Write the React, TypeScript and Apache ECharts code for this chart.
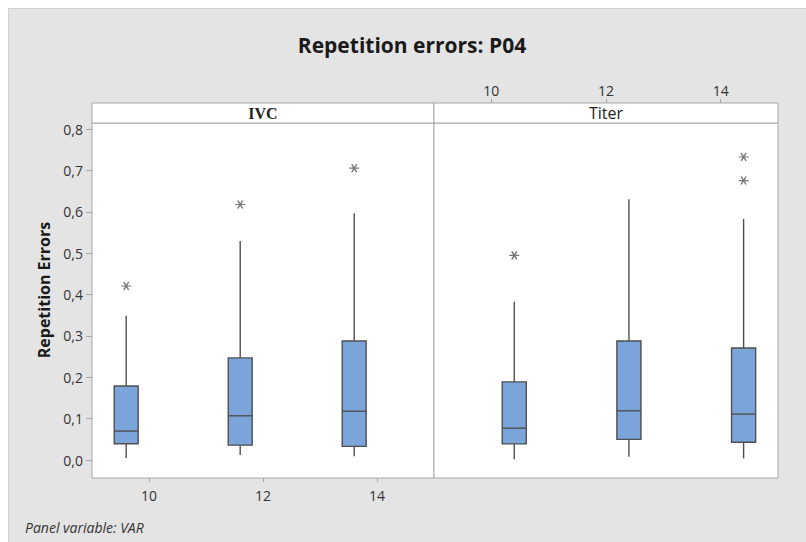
import React, { useEffect, useRef } from "react";
import * as echarts from "echarts";

// ---- data ----
const levels = [10, 12, 14];
const panels = ["IVC", "Titer"];

const ivcLow = [0.005, 0.012, 0.009];
const ivcQ1 = [0.0395, 0.036, 0.033];
const ivcMedian = [0.07, 0.107, 0.118];
const ivcQ3 = [0.179, 0.247, 0.288];
const ivcHigh = [0.349, 0.53, 0.597];
const ivcOutliers = [
  [10, 0.421],
  [12, 0.618],
  [14, 0.706],
];

const titerLow = [0.002, 0.008, 0.004];
const titerQ1 = [0.039, 0.05, 0.043];
const titerMedian = [0.077, 0.119, 0.111];
const titerQ3 = [0.189, 0.288, 0.271];
const titerHigh = [0.383, 0.631, 0.583];
const titerOutliers = [
  [10, 0.495],
  [14, 0.733],
  [14, 0.676],
];

const yTicks = [0, 0.1, 0.2, 0.3, 0.4, 0.5, 0.6, 0.7, 0.8];
const xTicks = [10, 12, 14];

const title = "Repetition errors: P04";
const yName = "Repetition Errors";
const footer = "Panel variable: VAR";

// ---- layout / style ----
const DODGE_IVC = -0.4;
const DODGE_TITER = 0.4;
const FONT = "'Open Sans', 'Noto Sans', sans-serif";
const BOX_FILL = "#7ba4da";
const DARK = "#4f4f4f";
const PANEL_BORDER = "#a8a8a8";

function boxData(low: number[], q1: number[], med: number[], q3: number[], high: number[], dodge: number) {
  return levels.map((lv, i) => [lv + dodge, low[i], q1[i], med[i], q3[i], high[i]]);
}

function renderBox(params: any, api: any) {
  const x = api.value(0);
  const pLow = api.coord([x, api.value(1)]);
  const pQ1 = api.coord([x, api.value(2)]);
  const pMed = api.coord([x, api.value(3)]);
  const pQ3 = api.coord([x, api.value(4)]);
  const pHigh = api.coord([x, api.value(5)]);
  const w = api.size([0.42, 0])[0];
  const half = w / 2;
  const lineStyle = { stroke: DARK, lineWidth: 1.4 };
  return {
    type: "group",
    children: [
      { type: "line", shape: { x1: pLow[0], y1: pLow[1], x2: pQ1[0], y2: pQ1[1] }, style: lineStyle },
      { type: "line", shape: { x1: pQ3[0], y1: pQ3[1], x2: pHigh[0], y2: pHigh[1] }, style: lineStyle },
      {
        type: "rect",
        shape: { x: pQ3[0] - half, y: pQ3[1], width: w, height: pQ1[1] - pQ3[1] },
        style: { fill: BOX_FILL, stroke: DARK, lineWidth: 1.4 },
      },
      { type: "line", shape: { x1: pMed[0] - half, y1: pMed[1], x2: pMed[0] + half, y2: pMed[1] }, style: lineStyle },
    ],
  };
}

const ASTERISK = "path://M0,5L12,5M3,0L9,10M9,0L3,10";

export default function App() {
  const ref = useRef<HTMLDivElement>(null);

  useEffect(() => {
    if (!ref.current) return;
    const chart = echarts.init(ref.current, null, { renderer: "svg" });

    const Y_MIN = -0.0435;
    const Y_MAX = 0.8152;
    const fmt = (v: number) => v.toFixed(1).replace(".", ",");

    const baseY = {
      type: "value",
      min: Y_MIN,
      max: Y_MAX,
      splitLine: { show: false },
      axisLine: { show: false, onZero: false },
    };

    const option: any = {
      animation: false,
      backgroundColor: "#e4e4e4",
      textStyle: { fontFamily: FONT },
      grid: [
        {
          left: 84, top: 115, width: 342, height: 355,
          show: true, backgroundColor: "#ffffff", borderColor: PANEL_BORDER, borderWidth: 1,
        },
        {
          left: 426, top: 115, width: 344, height: 355,
          show: true, backgroundColor: "#ffffff", borderColor: PANEL_BORDER, borderWidth: 1,
        },
      ],
      xAxis: [
        {
          type: "value", gridIndex: 0, min: 9, max: 15, position: "bottom",
          splitLine: { show: false },
          axisLine: { show: false, onZero: false },
          axisTick: { show: true, length: 4, lineStyle: { color: PANEL_BORDER }, customValues: xTicks },
          axisLabel: { show: true, customValues: xTicks, margin: 10, color: "#333", fontSize: 14, fontFamily: FONT },
        },
        {
          type: "value", gridIndex: 1, min: 9, max: 15, position: "top", offset: 20,
          splitLine: { show: false },
          axisLine: { show: false, onZero: false },
          axisTick: { show: true, length: 4, lineStyle: { color: PANEL_BORDER }, customValues: xTicks },
          axisLabel: { show: true, customValues: xTicks, margin: 6, color: "#333", fontSize: 14, fontFamily: FONT },
        },
      ],
      yAxis: [
        {
          ...baseY, gridIndex: 0,
          axisTick: { show: true, length: 6, lineStyle: { color: PANEL_BORDER }, customValues: yTicks },
          axisLabel: {
            show: true, customValues: yTicks, margin: 9, color: "#333", fontSize: 14, fontFamily: FONT,
            formatter: (v: number) => fmt(v),
          },
        },
        {
          ...baseY, gridIndex: 1,
          axisTick: { show: false },
          axisLabel: { show: false },
        },
      ],
      series: [
        {
          type: "custom", name: panels[0], xAxisIndex: 0, yAxisIndex: 0,
          renderItem: renderBox,
          encode: { x: 0, y: [1, 2, 3, 4, 5] },
          data: boxData(ivcLow, ivcQ1, ivcMedian, ivcQ3, ivcHigh, DODGE_IVC),
        },
        {
          type: "custom", name: panels[1], xAxisIndex: 1, yAxisIndex: 1,
          renderItem: renderBox,
          encode: { x: 0, y: [1, 2, 3, 4, 5] },
          data: boxData(titerLow, titerQ1, titerMedian, titerQ3, titerHigh, DODGE_TITER),
        },
        {
          type: "scatter", xAxisIndex: 0, yAxisIndex: 0,
          symbol: ASTERISK, symbolSize: [10, 8],
          itemStyle: { color: "none", borderColor: "#555", borderWidth: 1.3 },
          data: ivcOutliers.map(([x, y]) => [x + DODGE_IVC, y]),
        },
        {
          type: "scatter", xAxisIndex: 1, yAxisIndex: 1,
          symbol: ASTERISK, symbolSize: [10, 8],
          itemStyle: { color: "none", borderColor: "#555", borderWidth: 1.3 },
          data: titerOutliers.map(([x, y]) => [x + DODGE_TITER, y]),
        },
      ],
      graphic: [
        {
          type: "polyline", silent: true,
          shape: { points: [[0.5, 534], [0.5, 0.5], [798, 0.5]] },
          style: { stroke: "#cfcfcf", lineWidth: 1, fill: "none" },
        },
        {
          type: "rect", silent: true,
          shape: { x: 84, y: 95, width: 342, height: 20 },
          style: { fill: "#ffffff", stroke: PANEL_BORDER, lineWidth: 1 },
        },
        {
          type: "rect", silent: true,
          shape: { x: 426, y: 95, width: 344, height: 20 },
          style: { fill: "#ffffff", stroke: PANEL_BORDER, lineWidth: 1 },
        },
        {
          type: "text", x: 255, y: 105,
          style: {
            text: panels[0], fill: "#222", font: "bold 16px 'Liberation Serif', serif",
            textAlign: "center", textVerticalAlign: "middle",
          },
        },
        {
          type: "text", x: 598, y: 105,
          style: {
            text: panels[1], fill: "#222", font: `16px ${FONT}`,
            textAlign: "center", textVerticalAlign: "middle",
          },
        },
        {
          type: "text", x: 404, y: 37,
          style: {
            text: title, fill: "#1a1a1a", font: `bold 21px ${FONT}`,
            textAlign: "center", textVerticalAlign: "middle",
          },
        },
        {
          type: "text", x: 35.5, y: 282, rotation: Math.PI / 2,
          style: {
            text: yName, fill: "#1a1a1a", font: `bold 16px ${FONT}`,
            textAlign: "center", textVerticalAlign: "middle",
          },
        },
        {
          type: "text", x: 17, y: 519,
          style: {
            text: footer, fill: "#333", font: `italic 14px ${FONT}`,
            textAlign: "left", textVerticalAlign: "middle",
          },
        },
      ],
    };

    chart.setOption(option);
    return () => chart.dispose();
  }, []);

  return (
    <div
      ref={ref}
      style={{ position: "fixed", left: 8, top: 8, width: 798, height: 534 }}
    />
  );
}
